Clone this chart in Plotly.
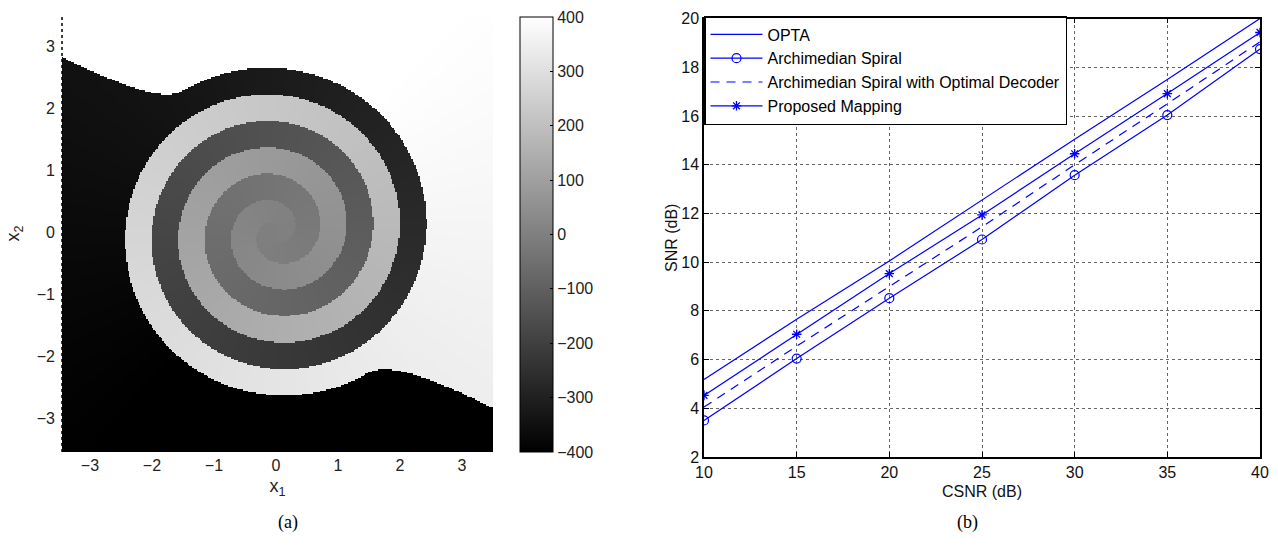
import numpy as np
import plotly.graph_objects as go

# ---------------- panel (b) data ----------------
csnr_db = [10, 15, 20, 25, 30, 35, 40]
snr_opta = [5.18, 7.66, 10.05, 12.55, 15.05, 17.5, 20.0]
snr_archimedean = [3.5, 6.04, 8.52, 10.93, 13.57, 16.04, 18.75]
snr_arch_optimal = [4.05, 6.55, 9.0, 11.45, 14.0, 16.5, 19.05]
snr_proposed = [4.53, 7.04, 9.53, 11.94, 14.45, 16.92, 19.43]
series_names = ["OPTA", "Archimedian Spiral",
                "Archimedian Spiral with Optimal Decoder", "Proposed Mapping"]
x_ticks_b = [10, 15, 20, 25, 30, 35, 40]
y_ticks_b = [2, 4, 6, 8, 10, 12, 14, 16, 18, 20]

# ---------------- panel (a) data ----------------
x1_range = [-3.45, 3.5]
x2_range = [-3.55, 3.5]
ticks_a = [-3, -2, -1, 0, 1, 2, 3]
colorbar_ticks = [-400, -300, -200, -100, 0, 100, 200, 300, 400]
grid_cells = 300
spiral_pitch = 0.86          # radial gap per turn of one arm
neg_arm_start_deg = 153.5    # start direction of the negative arm
arm_end_param = 21.45        # spiral parameter (rad) where the arms stop
value_gain = 64.0
value_power = 1.8
value_limits = [-400, 400]

# build the decoded-value map (nearest point on the double spiral)
xs = np.linspace(x1_range[0], x1_range[1], grid_cells)
ys = np.linspace(x2_range[0], x2_range[1], grid_cells)
b = spiral_pitch / (2 * np.pi)
t = np.linspace(0, arm_end_param, 1700)
r = b * t
ang = np.deg2rad(neg_arm_start_deg) + t
nx, ny = r * np.cos(ang), r * np.sin(ang)
px = np.concatenate([nx, -nx])
py = np.concatenate([ny, -ny])
mag = value_gain * r ** value_power
pv = np.concatenate([-mag, mag])
pv = np.clip(pv, value_limits[0], value_limits[1])

z = np.empty((grid_cells, grid_cells))
for j, yv in enumerate(ys):
    d2 = (xs[:, None] - px[None, :]) ** 2 + (yv - py[None, :]) ** 2
    z[j, :] = pv[np.argmin(d2, axis=1)]

W, H = 1278, 548
def fx(px_):
    return px_ / W
def fy(py_):
    return 1 - py_ / H

fig = go.Figure()

fig.add_trace(go.Heatmap(
    x=xs, y=ys, z=z, zmin=value_limits[0], zmax=value_limits[1],
    colorscale=[[0, "#000000"], [1, "#ffffff"]],
    xaxis="x", yaxis="y", hoverinfo="skip",
    colorbar=dict(
        x=fx(520), xanchor="left", y=fy(234.5), yanchor="middle",
        len=(452 - 17) / H, lenmode="fraction", thickness=33, thicknessmode="pixels",
        tickvals=colorbar_ticks, ticks="inside", ticklen=3, tickcolor="black",
        outlinecolor="black", outlinewidth=1,
        tickfont=dict(family="Liberation Sans, Arial", size=16, color="#222"),
        xpad=0, ypad=0,
    ),
))

blue = "#0000ff"
fig.add_trace(go.Scatter(x=csnr_db, y=snr_opta, mode="lines", name=series_names[0],
                         line=dict(color=blue, width=1.2), xaxis="x2", yaxis="y2"))
fig.add_trace(go.Scatter(x=csnr_db, y=snr_archimedean, mode="lines+markers", name=series_names[1],
                         line=dict(color=blue, width=1.2),
                         marker=dict(symbol="circle-open", size=9, color=blue, line=dict(width=1.2)),
                         xaxis="x2", yaxis="y2"))
fig.add_trace(go.Scatter(x=csnr_db, y=snr_arch_optimal, mode="lines", name=series_names[2],
                         line=dict(color=blue, width=1.2, dash="9px,7px"), xaxis="x2", yaxis="y2"))
fig.add_trace(go.Scatter(x=csnr_db, y=snr_proposed, mode="lines+markers", name=series_names[3],
                         line=dict(color=blue, width=1.2),
                         marker=dict(symbol="asterisk-open", size=8, color=blue, line=dict(width=1.3, color=blue)),
                         xaxis="x2", yaxis="y2"))

tickfont = dict(family="Liberation Sans, Arial", size=16, color="#111")
afont = dict(family="Liberation Sans, Arial", size=16, color="#222")

fig.update_layout(
    width=W, height=H, margin=dict(l=0, r=0, t=0, b=0, autoexpand=False),
    paper_bgcolor="white", plot_bgcolor="white",
    showlegend=True,
    xaxis=dict(domain=[fx(62), fx(493)], range=x1_range, tickvals=ticks_a, automargin=False,
               showgrid=False, zeroline=False, showline=False, ticks="",
               tickfont=afont, ticklabelstandoff=2,
               title=dict(text="x<sub>1</sub>", font=dict(family="Liberation Sans, Arial", size=18, color="#222"),
                          standoff=6),
               anchor="y"),
    yaxis=dict(domain=[fy(452), fy(15)], range=x2_range, tickvals=ticks_a, automargin=False,
               showgrid=False, zeroline=False, showline=False, ticks="",
               tickfont=afont, ticklabelstandoff=6,
               title=dict(text="x<sub>2</sub>", font=dict(family="Liberation Sans, Arial", size=18, color="#222"),
                          standoff=12),
               anchor="x"),
    xaxis2=dict(domain=[fx(704), fx(1260)], range=[10, 40], tickvals=x_ticks_b, automargin=False,
                showgrid=True, gridcolor="#666", griddash="dot", gridwidth=1,
                zeroline=False, showline=True, linecolor="black", linewidth=1.5, mirror="ticks",
                ticks="inside", ticklen=5, tickcolor="black",
                tickfont=tickfont,
                title=dict(text="CSNR (dB)", font=tickfont, standoff=6),
                anchor="y2"),
    yaxis2=dict(domain=[fy(457), fy(18.6)], range=[2, 20], tickvals=y_ticks_b, automargin=False,
                showgrid=True, gridcolor="#666", griddash="dot", gridwidth=1,
                zeroline=False, showline=True, linecolor="black", linewidth=1.5, mirror="ticks",
                ticks="inside", ticklen=5, tickcolor="black",
                tickfont=tickfont,
                anchor="x2"),
    legend=dict(x=fx(704), y=fy(16), xanchor="left", yanchor="top",
                bgcolor="white", bordercolor="black", borderwidth=1.5,
                font=dict(family="Liberation Sans, Arial", size=16, color="black"),
                tracegroupgap=0, itemwidth=52),
    annotations=[
        dict(text="SNR (dB)", x=fx(672), y=fy(238), xref="paper", yref="paper", showarrow=False,
             textangle=-90, font=tickfont),
        dict(text="(a)", x=fx(276), y=fy(535), xref="paper", yref="paper", showarrow=False,
             font=dict(family="Liberation Serif, Times New Roman", size=18, color="black")),
        dict(text="(b)", x=fx(980), y=fy(535), xref="paper", yref="paper", showarrow=False,
             font=dict(family="Liberation Serif, Times New Roman", size=18, color="black")),
    ],
    shapes=[
        dict(type="line", xref="x domain", yref="y domain", x0=0, x1=0, y0=0, y1=1,
             line=dict(color="black", width=1.5, dash="dot")),
    ],
)

fig.write_html("out.html", config={"displayModeBar": False},
               post_script="document.body.style.margin='0';")
